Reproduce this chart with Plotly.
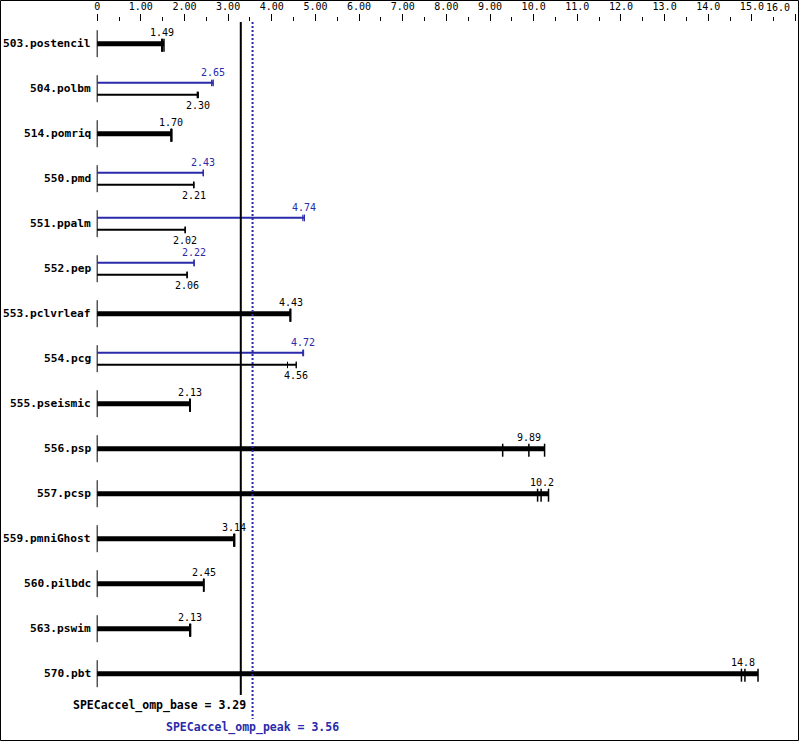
import plotly.graph_objects as go

# ---------------- data ----------------
benchmarks = ["503.postencil", "504.polbm", "514.pomriq", "550.pmd", "551.ppalm",
              "552.pep", "553.pclvrleaf", "554.pcg", "555.pseismic", "556.psp",
              "557.pcsp", "559.pmniGhost", "560.pilbdc", "563.pswim", "570.pbt"]
base_label = ["1.49", "2.30", "1.70", "2.21", "2.02", "2.06", "4.43", "4.56", "2.13",
              "9.89", "10.2", "3.14", "2.45", "2.13", "14.8"]
base_median = [1.49, 2.30, 1.70, 2.21, 2.02, 2.06, 4.43, 4.56, 2.13,
               9.89, 10.2, 3.14, 2.45, 2.13, 14.8]
base_runs = [[1.48, 1.49, 1.53], [2.29, 2.30, 2.32], [1.69, 1.70, 1.71],
             [2.21, 2.21, 2.22], [2.01, 2.02, 2.02], [2.06, 2.06, 2.06],
             [4.42, 4.43, 4.43], [4.36, 4.56, 4.56], [2.12, 2.13, 2.13],
             [9.29, 9.89, 10.25], [10.09, 10.17, 10.34], [3.13, 3.14, 3.15],
             [2.44, 2.44, 2.44], [2.12, 2.13, 2.14], [14.76, 14.84, 15.14]]
# peak results (None = peak same as base / not reported)
peak_label = [None, "2.65", None, "2.43", "4.74", "2.22", None, "4.72",
              None, None, None, None, None, None, None]
peak_median = [None, 2.65, None, 2.43, 4.74, 2.22, None, 4.72,
               None, None, None, None, None, None, None]
peak_runs = [None, [2.62, 2.65, 2.66], None, [2.43, 2.43, 2.43], [4.71, 4.74, 4.75],
             [2.22, 2.22, 2.22], None, [4.71, 4.72, 4.73],
             None, None, None, None, None, None, None]
base_mean = 3.29
peak_mean = 3.56
tick_vals = list(range(0, 17))
tick_text = ["0", "1.00", "2.00", "3.00", "4.00", "5.00", "6.00", "7.00", "8.00",
             "9.00", "10.0", "11.0", "12.0", "13.0", "14.0", "15.0", "16.0"]

# ---------------- style ----------------
W, H = 799, 741
ML, MR, MT, MB = 95, 3, 22, 0
ROW_PX = 45.0
ROW0_PX = 43.7
BLUE = "#2a2aaa"
FONT = "DejaVu Sans Mono"
px = 1.0 / ROW_PX            # one pixel in y-data units
y_top = (MT - ROW0_PX) / ROW_PX
y_bot = (H - MB - ROW0_PX) / ROW_PX
pw = W - ML - MR
ph = H - MT - MB

fig = go.Figure()

def add_segments(xs, ys, color, width):
    fig.add_trace(go.Scatter(x=xs, y=ys, mode="lines", hoverinfo="skip",
                             line=dict(color=color, width=width), showlegend=False))

thick_x, thick_y = [], []
thin_k_x, thin_k_y = [], []
thin_b_x, thin_b_y = [], []
tick_thick_x, tick_thick_y = [], []
tick_k_x, tick_k_y = [], []
tick_b_x, tick_b_y = [], []
axis_x, axis_y = [], []
annotations = []

for i, name in enumerate(benchmarks):
    axis_x += [0, 0, None]
    axis_y += [i - 13.5 * px, i + 13.5 * px, None]
    annotations.append(dict(x=0, y=i, xref="x", yref="y", text="<b>%s</b>" % name,
                            showarrow=False, xanchor="right", yanchor="middle",
                            xshift=-4, font=dict(family=FONT, size=11.2, color="black")))
    if peak_runs[i] is None:
        yb = i
        thick_x += [0, max(base_runs[i]), None]
        thick_y += [yb, yb, None]
        for r in base_runs[i]:
            tick_thick_x += [r, r, None]
            tick_thick_y += [yb - 5 * px, yb + 8 * px, None]
        annotations.append(dict(x=base_median[i], y=yb - 11 * px, text=base_label[i],
                                showarrow=False, xanchor="center", yanchor="middle",
                                font=dict(family=FONT, size=10, color="black")))
    else:
        yp = i - 6 * px
        yb = i + 6 * px
        thin_b_x += [0, max(peak_runs[i]), None]
        thin_b_y += [yp, yp, None]
        for r in peak_runs[i]:
            tick_b_x += [r, r, None]
            tick_b_y += [yp - 3 * px, yp + 3.5 * px, None]
        thin_k_x += [0, max(base_runs[i]), None]
        thin_k_y += [yb, yb, None]
        for r in base_runs[i]:
            tick_k_x += [r, r, None]
            tick_k_y += [yb - 3 * px, yb + 3.5 * px, None]
        annotations.append(dict(x=peak_median[i], y=i - 16.5 * px, text=peak_label[i],
                                showarrow=False, xanchor="center", yanchor="middle",
                                font=dict(family=FONT, size=10, color=BLUE)))
        annotations.append(dict(x=base_median[i], y=i + 17 * px, text=base_label[i],
                                showarrow=False, xanchor="center", yanchor="middle",
                                font=dict(family=FONT, size=10, color="black")))

add_segments(axis_x, axis_y, "black", 1)
add_segments(thick_x, thick_y, "black", 5)
add_segments(thin_k_x, thin_k_y, "black", 2)
add_segments(thin_b_x, thin_b_y, BLUE, 2)
add_segments(tick_thick_x, tick_thick_y, "black", 1.5)
add_segments(tick_k_x, tick_k_y, "black", 1)
add_segments(tick_b_x, tick_b_y, BLUE, 1)

# summary lines
base_end = (695 - ROW0_PX) / ROW_PX
peak_end = (719 - ROW0_PX) / ROW_PX
fig.add_trace(go.Scatter(x=[base_mean, base_mean], y=[y_top, base_end], mode="lines",
                         line=dict(color="black", width=2), hoverinfo="skip", showlegend=False))
fig.add_trace(go.Scatter(x=[peak_mean, peak_mean], y=[y_top, peak_end], mode="lines",
                         line=dict(color=BLUE, width=2, dash="2px,2px"),
                         hoverinfo="skip", showlegend=False))
annotations.append(dict(x=base_mean, y=(705 - ROW0_PX) / ROW_PX,
                        text="<b>SPECaccel_omp_base = %.2f</b>" % base_mean,
                        showarrow=False, xanchor="right", yanchor="middle", xshift=7,
                        font=dict(family=FONT, size=11.5, color="black")))
annotations.append(dict(x=peak_mean, y=(727 - ROW0_PX) / ROW_PX,
                        text="<b>SPECaccel_omp_peak = %.2f</b>" % peak_mean,
                        showarrow=False, xanchor="center", yanchor="middle",
                        font=dict(family=FONT, size=11.5, color=BLUE)))

# last axis label is squeezed against the right edge, as in the reference
annotations.append(dict(x=tick_vals[-1], y=1 + (MT - 8) / ph, xref="x", yref="paper",
                        text=tick_text[-1], showarrow=False, xanchor="right",
                        yanchor="middle", xshift=-4,
                        font=dict(family=FONT, size=10, color="black")))
axis_text = tick_text[:-1] + [""]

border = dict(type="rect", xref="paper", yref="paper",
              x0=(0.5 - ML) / pw, x1=(W - 0.5 - ML) / pw,
              y0=0.5 / ph, y1=1 + (MT - 0.5) / ph,
              line=dict(color="black", width=1), fillcolor="rgba(0,0,0,0)")

fig.update_layout(
    width=W, height=H,
    margin=dict(l=ML, r=MR, t=MT, b=MB, pad=0),
    paper_bgcolor="white", plot_bgcolor="white",
    showlegend=False,
    annotations=annotations,
    shapes=[border],
    xaxis=dict(range=[-0.05, 16.01], side="top", showgrid=False, zeroline=False,
               showline=False, tickmode="array", tickvals=tick_vals, ticktext=axis_text,
               ticks="outside", ticklen=7, tickwidth=1, tickcolor="black",
               tickfont=dict(family=FONT, size=10, color="black"),
               minor=dict(tickmode="linear", tick0=0.5, dtick=1, ticks="outside",
                          ticklen=4, tickwidth=1, tickcolor="black", showgrid=False)),
    yaxis=dict(range=[y_bot, y_top], showgrid=False, zeroline=False, showline=False,
               showticklabels=False, ticks=""),
)

fig.write_html("out.html", config={"displayModeBar": False},
               post_script="document.body.style.margin='0px';document.body.style.padding='0px';")
